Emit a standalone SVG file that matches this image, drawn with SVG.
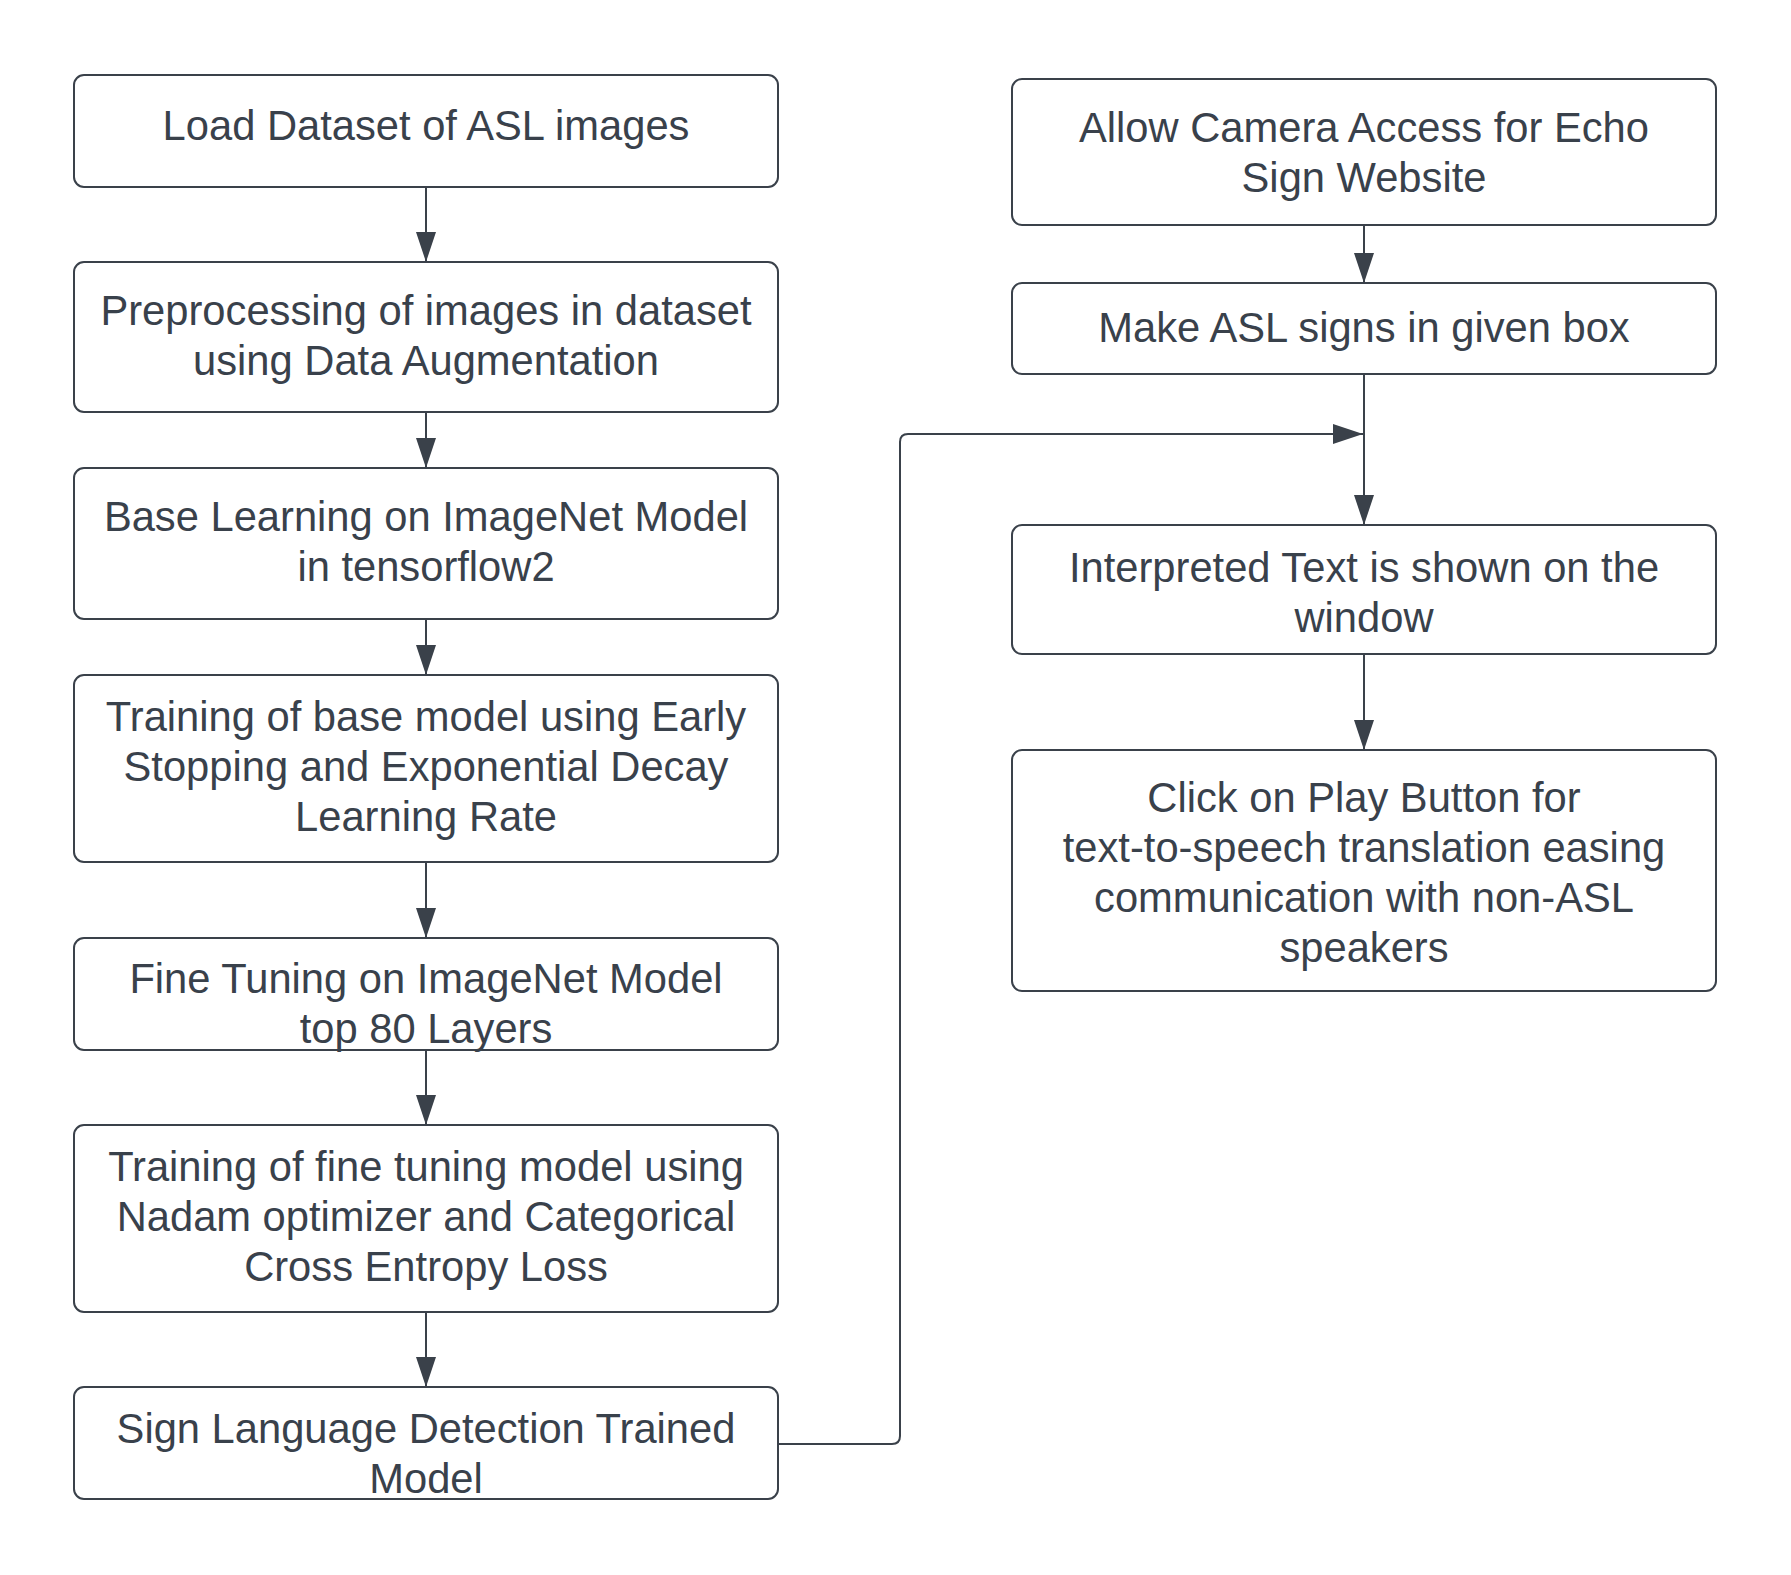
<svg xmlns="http://www.w3.org/2000/svg" width="1791" height="1575" viewBox="0 0 1791 1575">
<defs>
<style>
.box{fill:#ffffff;stroke:#3a414a;stroke-width:2}
.lbl{font-family:"Liberation Sans",Arial,sans-serif;font-size:41.7px;fill:#39414b;text-anchor:middle}
.conn{fill:none;stroke:#3a414a;stroke-width:2}
</style>
<marker id="arr" markerUnits="userSpaceOnUse" markerWidth="32" markerHeight="22" refX="30" refY="10" orient="auto">
<path d="M0,0 L30,10 L0,20 Z" fill="#3a414a"/>
</marker>
</defs>
<rect width="1791" height="1575" fill="#ffffff"/>
<g id="connectors">
<path class="conn" d="M426,187 V262" marker-end="url(#arr)"/>
<path class="conn" d="M426,412 V468" marker-end="url(#arr)"/>
<path class="conn" d="M426,619 V675" marker-end="url(#arr)"/>
<path class="conn" d="M426,862 V938" marker-end="url(#arr)"/>
<path class="conn" d="M426,1050 V1125" marker-end="url(#arr)"/>
<path class="conn" d="M426,1312 V1387" marker-end="url(#arr)"/>
<path class="conn" d="M1364,225 V283" marker-end="url(#arr)"/>
<path class="conn" d="M1364,374 V525" marker-end="url(#arr)"/>
<path class="conn" d="M1364,654 V750" marker-end="url(#arr)"/>
<path class="conn" d="M778,1444 H892 Q900,1444 900,1436 V442 Q900,434 908,434 H1363" marker-end="url(#arr)"/>
</g>
<g id="n1"><rect class="box" x="74" y="75" width="704" height="112" rx="10"/>
<text class="lbl" x="426" y="140">Load Dataset of ASL images</text></g>
<g id="n2"><rect class="box" x="74" y="262" width="704" height="150" rx="10"/>
<text class="lbl" x="426" y="325">Preprocessing of images in dataset</text>
<text class="lbl" x="426" y="375">using Data Augmentation</text></g>
<g id="n3"><rect class="box" x="74" y="468" width="704" height="151" rx="10"/>
<text class="lbl" x="426" y="531">Base Learning on ImageNet Model</text>
<text class="lbl" x="426" y="581">in tensorflow2</text></g>
<g id="n4"><rect class="box" x="74" y="675" width="704" height="187" rx="10"/>
<text class="lbl" x="426" y="731">Training of base model using Early</text>
<text class="lbl" x="426" y="781">Stopping and Exponential Decay</text>
<text class="lbl" x="426" y="831">Learning Rate</text></g>
<g id="n5"><rect class="box" x="74" y="938" width="704" height="112" rx="10"/>
<text class="lbl" x="426" y="993">Fine Tuning on ImageNet Model</text>
<text class="lbl" x="426" y="1043">top 80 Layers</text></g>
<g id="n6"><rect class="box" x="74" y="1125" width="704" height="187" rx="10"/>
<text class="lbl" x="426" y="1181">Training of fine tuning model using</text>
<text class="lbl" x="426" y="1231">Nadam optimizer and Categorical</text>
<text class="lbl" x="426" y="1281">Cross Entropy Loss</text></g>
<g id="n7"><rect class="box" x="74" y="1387" width="704" height="112" rx="10"/>
<text class="lbl" x="426" y="1443">Sign Language Detection Trained</text>
<text class="lbl" x="426" y="1493">Model</text></g>
<g id="r1"><rect class="box" x="1012" y="79" width="704" height="146" rx="10"/>
<text class="lbl" x="1364" y="142">Allow Camera Access for Echo</text>
<text class="lbl" x="1364" y="192">Sign Website</text></g>
<g id="r2"><rect class="box" x="1012" y="283" width="704" height="91" rx="10"/>
<text class="lbl" x="1364" y="342">Make ASL signs in given box</text></g>
<g id="r3"><rect class="box" x="1012" y="525" width="704" height="129" rx="10"/>
<text class="lbl" x="1364" y="582">Interpreted Text is shown on the</text>
<text class="lbl" x="1364" y="632">window</text></g>
<g id="r4"><rect class="box" x="1012" y="750" width="704" height="241" rx="10"/>
<text class="lbl" x="1364" y="812">Click on Play Button for</text>
<text class="lbl" x="1364" y="862">text-to-speech translation easing</text>
<text class="lbl" x="1364" y="912">communication with non-ASL</text>
<text class="lbl" x="1364" y="962">speakers</text></g>
</svg>
